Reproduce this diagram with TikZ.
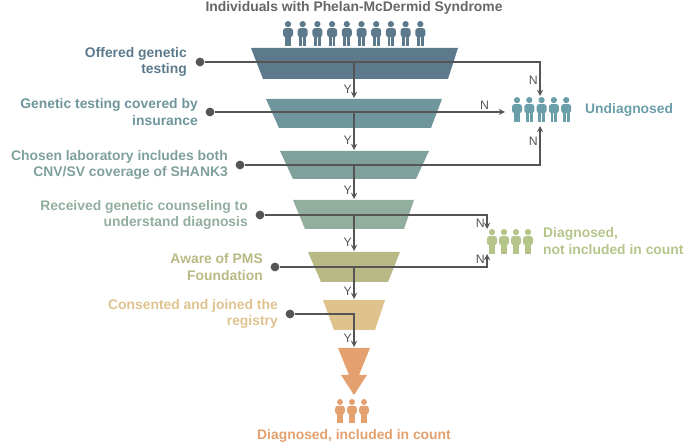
\documentclass[tikz,border=0pt]{standalone}
\usepackage{fontspec}
\setmainfont{Liberation Sans}
\usetikzlibrary{positioning}
\definecolor{cA}{HTML}{5C7A8C}
\definecolor{cB}{HTML}{6F969D}
\definecolor{cC}{HTML}{7FA09B}
\definecolor{cD}{HTML}{92AE9F}
\definecolor{cE}{HTML}{B9B985}
\definecolor{cF}{HTML}{DEC38E}
\definecolor{cG}{HTML}{E4A06F}
\definecolor{cUnd}{HTML}{6A9EA8}
\definecolor{cNot}{HTML}{B5C58A}
\definecolor{cLine}{HTML}{555555}
% pictogram person: x, y (top), height, colour
\newcommand{\pmsperson}[4]{%
  \begin{scope}[shift={(#1,#2)}, scale=#3/24]
    \fill[#4] (0,3) circle (3);
    \fill[#4, rounded corners=1.5] (-4.8,6.8) rectangle (4.8,15.5);
    \fill[#4] (-3.2,13) rectangle (-0.4,24);
    \fill[#4] (0.4,13) rectangle (3.2,24);
  \end{scope}}
\begin{document}
\begin{tikzpicture}[x=0.02cm, y=-0.02cm,
    every node/.style={font=\bfseries\fontsize{7.9}{9.3}\selectfont},
    stage/.style={align=right, anchor=east},
    dot/.style={circle, fill=cLine, inner sep=0pt, minimum size=5pt},
    arrow/.style={cLine, semithick, ->, >=stealth},
    yn/.style={font=\fontsize{7}{8}\selectfont, text=cLine, inner sep=1pt}
]
\useasboundingbox (0,0) rectangle (690,445);

% Title
\node (title) [text=cLine!90] at (354,8) {Individuals with Phelan-McDermid Syndrome};

% Funnel
\fill[cA] (251,48) -- (458,48) -- (448,79) -- (263,79) -- cycle;
\fill[cB] (266,99) -- (442,99) -- (431,128) -- (279,128) -- cycle;
\fill[cC] (280,151) -- (429,151) -- (416,179) -- (293,179) -- cycle;
\fill[cD] (293,200) -- (414,200) -- (404,229) -- (305,229) -- cycle;
\fill[cE] (308,252) -- (400,252) -- (388,282) -- (321,282) -- cycle;
\fill[cF] (323,300) -- (385,300) -- (375,330) -- (334,330) -- cycle;
\fill[cG] (338,348) -- (370,348) -- (359,375) -- (367,375) -- (354,395) -- (341,375) -- (349,375) -- cycle;

% People
\foreach \i in {0,...,9} \pmsperson{288+14.7*\i}{21}{25}{cA};
\foreach \i in {0,...,4} \pmsperson{517+12.3*\i}{97}{25}{cUnd};
\foreach \i in {0,...,3} \pmsperson{492+12*\i}{229}{25}{cNot};
\foreach \i in {0,...,2} \pmsperson{340+12*\i}{399}{24}{cG};

% Labels
\node (s1) [stage, text=cA] at (193,62) {Offered genetic\\testing};
\node (s2) [stage, text=cB] at (204,112) {Genetic testing covered by\\insurance};
\node (s3) [stage, text=cC] at (234,165) {Chosen laboratory includes both\\CNV/SV coverage of SHANK3};
\node (s4) [stage, text=cD] at (254,215) {Received genetic counseling to\\understand diagnosis};
\node (s5) [stage, text=cE] at (269,267) {Aware of PMS\\Foundation};
\node (s6) [stage, text=cF] at (284,314) {Consented and joined the\\registry};
\node (und) [anchor=west, text=cUnd] at (579,110) {Undiagnosed};
\node (notc) [anchor=west, align=left, text=cNot] at (537,241) {Diagnosed,\\not included in count};
\node (inc) [text=cG] at (354,436) {Diagnosed, included in count};

% Dots and targets
\node (d1) [dot] at (200,62) {};
\node (d2) [dot] at (210,112) {};
\node (d3) [dot] at (240,165) {};
\node (d4) [dot] at (260,215) {};
\node (d5) [dot] at (275,267) {};
\node (d6) [dot] at (290,314) {};
\coordinate (uTop) at (540,96);
\coordinate (uLeft) at (505,112);
\coordinate (uBot) at (540,126);
\coordinate (nTop) at (487,229);
\coordinate (nBot) at (487,254);
\coordinate (f2) at (354,98);
\coordinate (f3) at (354,150);
\coordinate (f4) at (354,199);
\coordinate (f5) at (354,251);
\coordinate (f6) at (354,299);
\coordinate (f7) at (354,347);

% No branches
\draw[arrow] (d1) -- (540,62) -- node[yn, left, pos=0.55] {N} (uTop);
\draw[arrow] (d2) -- node[yn, above, pos=0.93] {N} (uLeft);
\draw[arrow] (d3) -- (540,165) -- node[yn, left, pos=0.6] {N} (uBot);
\draw[arrow] (d4) -- (487,215) -- node[yn, left, pos=0.6] {N} (nTop);
\draw[arrow] (d5) -- (487,267) -- node[yn, left, pos=0.6] {N} (nBot);

% Yes branches
\draw[arrow] (354,62) -- node[yn, left, pos=0.75] {Y} (f2);
\draw[arrow] (354,112) -- node[yn, left, pos=0.75] {Y} (f3);
\draw[arrow] (354,165) -- node[yn, left, pos=0.75] {Y} (f4);
\draw[arrow] (354,215) -- node[yn, left, pos=0.75] {Y} (f5);
\draw[arrow] (354,267) -- node[yn, left, pos=0.75] {Y} (f6);
\draw[arrow] (d6) -- (354,314) -- node[yn, left, pos=0.75] {Y} (f7);
\end{tikzpicture}
\end{document}
